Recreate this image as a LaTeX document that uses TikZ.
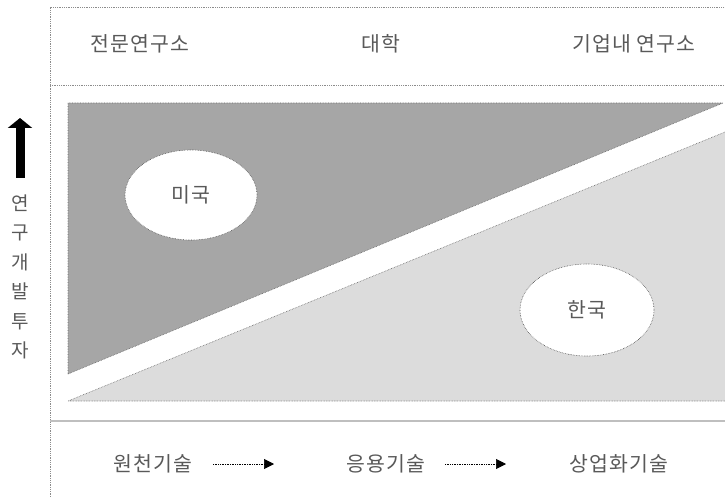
\documentclass[tikz,border=0pt]{standalone}
\usepackage{fontspec}
\newfontfamily\kr[LetterSpace=5]{Noto Sans CJK KR}
\usetikzlibrary{arrows.meta,shapes.geometric}
\definecolor{darkfill}{HTML}{A6A6A6}
\definecolor{lightfill}{HTML}{DCDCDC}
\definecolor{frameline}{HTML}{8C8C8C}
\begin{document}
\begin{tikzpicture}[x=1pt,y=-1pt,
  frame/.style={draw=frameline,densely dotted,line width=0.8pt},
  lbl/.style={font=\kr\fontsize{20.5}{22}\selectfont,text=black!65},
  oval/.style={ellipse,draw=black!70,densely dotted,fill=white,line width=0.6pt,minimum width=132pt,minimum height=90pt,inner sep=0pt},
  flow/.style={densely dotted,line width=0.7pt,-{Triangle[length=10pt,width=10pt]}},
  tri/.style={draw=black!60,densely dotted,line width=0.6pt}]
\useasboundingbox (0,0) rectangle (725,497);
% frame
\coordinate (ftl) at (50,7);
\coordinate (fbl) at (50,497);
\coordinate (ftr) at (725,7);
\coordinate (mtl) at (50,85);
\coordinate (mtr) at (725,85);
\coordinate (bl) at (50,421);
\coordinate (br) at (725,421);
\draw[frame] (fbl) -- (ftl) -- (ftr);
\draw[frame] (mtl) -- (mtr);
\draw[draw=black!25,line width=1.6pt] (bl) -- (br);
% triangles
\coordinate (d1) at (68,103);
\coordinate (d2) at (723,103);
\coordinate (d3) at (68,374);
\coordinate (l1) at (68,401);
\coordinate (l2) at (725,401);
\coordinate (l3) at (725,132);
\fill[darkfill] (d1) -- (d2) -- (d3) -- cycle;
\draw[tri] (d3) -- (d1) -- (d2) -- (d3);
\fill[lightfill] (l1) -- (l2) -- (l3) -- cycle;
\draw[tri] (l3) -- (l1) -- (l2);
% ellipses
\node[oval,lbl] (us) at (191,195) {미국};
\node[oval,lbl,minimum width=134pt,minimum height=92pt] (kr) at (587,310) {한국};
% top labels
\node[lbl] (t1) at (140,44) {전문연구소};
\node[lbl] (t2) at (381,44) {대학};
\node[lbl] (t3) at (634,44) {기업내 연구소};
% left axis
\coordinate (ab) at (20,178);
\coordinate (at) at (20,118);
\draw[line width=9pt,-{Triangle[length=10pt,width=24pt]}] (ab) -- (at);
\node[font=\kr\fontsize{19}{29.5}\selectfont,text=black!65,align=center,inner sep=0pt] (axis) at (20,277) {연\\구\\개\\발\\투\\자};
% bottom labels
\node[lbl] (b1) at (153,464) {원천기술};
\node[lbl] (b2) at (386,464) {응용기술};
\node[lbl] (b3) at (619,464) {상업화기술};
\coordinate (f1s) at (213,464);
\coordinate (f1e) at (274,464);
\coordinate (f2s) at (445,464);
\coordinate (f2e) at (506,464);
\draw[flow] (f1s) -- (f1e);
\draw[flow] (f2s) -- (f2e);
\end{tikzpicture}
\end{document}
